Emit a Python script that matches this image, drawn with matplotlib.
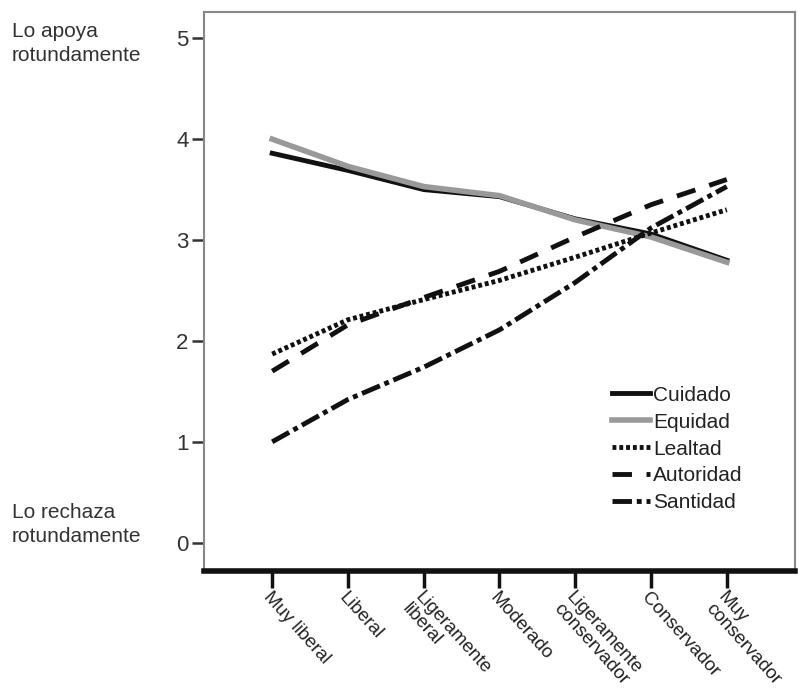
import matplotlib.pyplot as plt

plt.rcParams['font.family'] = ['Liberation Sans', 'DejaVu Sans']

categorias = ['Muy liberal', 'Liberal', 'Ligeramente\nliberal', 'Moderado',
              'Ligeramente\nconservador', 'Conservador', 'Muy\nconservador']

cuidado = [3.86, 3.69, 3.50, 3.43, 3.21, 3.06, 2.80]
equidad = [4.00, 3.73, 3.53, 3.44, 3.20, 3.03, 2.78]
lealtad = [1.87, 2.21, 2.41, 2.60, 2.83, 3.07, 3.30]
autoridad = [1.70, 2.16, 2.43, 2.69, 3.03, 3.35, 3.60]
santidad = [1.00, 1.42, 1.74, 2.11, 2.58, 3.12, 3.53]

fig = plt.figure(figsize=(7.98, 6.88), dpi=100)
ax = fig.add_axes([204 / 798, 1 - 571 / 688, 591 / 798, 559 / 688])

x = range(len(categorias))
ax.plot(x, cuidado, color='#111111', lw=3.5, label='Cuidado')
ax.plot(x, equidad, color='#999999', lw=4, label='Equidad')
ax.plot(x, lealtad, color='#111111', lw=3.5, linestyle=(0, (0.8, 0.6)), label='Lealtad')
ax.plot(x, autoridad, color='#111111', lw=3.5, linestyle=(0, (4, 3)), label='Autoridad')
ax.plot(x, santidad, color='#111111', lw=3.5, linestyle=(0, (4, 1, 1, 1)), label='Santidad')

ax.set_xlim(-0.9, 6.9)
ax.set_ylim(-0.28, 5.26)
ax.set_yticks([0, 1, 2, 3, 4, 5])
ax.set_xticks(list(x))
ax.set_xticklabels(categorias, rotation=-48, ha='left', va='top',
                   rotation_mode='anchor', fontsize=13.5, color='#222222',
                   linespacing=0.95)
ax.tick_params(axis='y', labelsize=16, length=9, width=1.8, color='#333333',
               labelcolor='#333333', pad=2)
ax.tick_params(axis='x', length=12, width=2.5, color='#111111', pad=1)

for side in ['left', 'top', 'right']:
    ax.spines[side].set_color('#888888')
    ax.spines[side].set_linewidth(1.5)
ax.spines['bottom'].set_color('#111111')
ax.spines['bottom'].set_linewidth(4)

fig.text(12 / 798, 1 - 22 / 688, 'Lo apoya\nrotundamente', fontsize=15,
         color='#333333', va='top', ha='left', linespacing=1.35)
fig.text(12 / 798, 1 - 503 / 688, 'Lo rechaza\nrotundamente', fontsize=15,
         color='#333333', va='top', ha='left', linespacing=1.35)

leg = ax.legend(loc='lower right', bbox_to_anchor=(0.925, 0.09), frameon=False,
                handlelength=1.8, handletextpad=0.15, labelspacing=0.38,
                fontsize=15, borderaxespad=0)
for t in leg.get_texts():
    t.set_color('#222222')

fig.savefig('out.png', dpi=100)
